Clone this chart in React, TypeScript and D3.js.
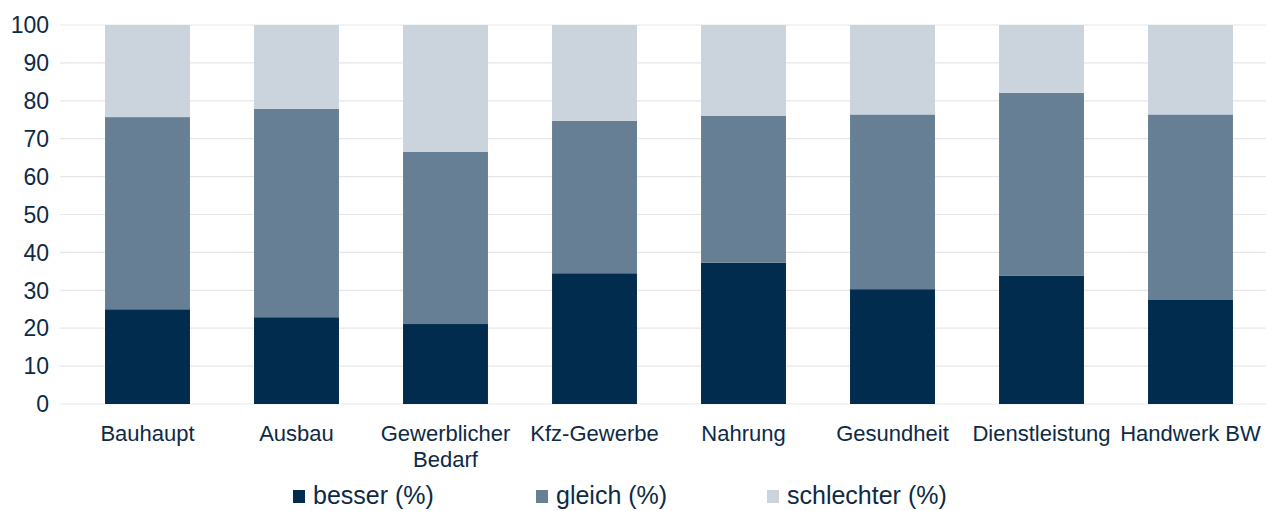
import React from "react";
import * as d3 from "d3";

const categories = ["Bauhaupt", "Ausbau", "Gewerblicher Bedarf", "Kfz-Gewerbe", "Nahrung", "Gesundheit", "Dienstleistung", "Handwerk BW"];
const besser = [25.0, 22.9, 21.1, 34.5, 37.3, 30.3, 33.8, 27.6];
const gleich = [50.7, 55.0, 45.4, 40.2, 38.7, 46.1, 48.3, 48.8];
const schlechter = [24.3, 22.1, 33.5, 25.3, 24.0, 23.6, 17.9, 23.6];
const seriesNames = ["besser (%)", "gleich (%)", "schlechter (%)"];
const yTicks = [0, 10, 20, 30, 40, 50, 60, 70, 80, 90, 100];

const colors = ["#012c4d", "#667f94", "#cbd4dc"];
const textColor = "#0e2a45";
const font = "'Liberation Sans', Arial, sans-serif";

export default function App() {
  const W = 1266, H = 511;
  const x = d3.scaleBand().domain(categories).range([73, 1265]).paddingInner(0.43).paddingOuter(0.215);
  const y = d3.scaleLinear().domain([0, 100]).range([404, 25]);
  const rows = categories.map((c, i) => ({ cat: c, besser: besser[i], gleich: gleich[i], schlechter: schlechter[i] }));
  const stack = d3.stack<any>().keys(["besser", "gleich", "schlechter"])(rows);
  const legendX = [293, 536, 767];

  return (
    <svg width={W} height={H} style={{ position: "absolute", left: 0, top: 0, background: "#fff" }} fontFamily={font}>
      {yTicks.map((t) => (
        <g key={t}>
          <line x1={60} x2={1266} y1={y(t)} y2={y(t)} stroke="#e4e7ec" strokeWidth={1.2} />
          <text x={49} y={y(t)} dy="0.36em" textAnchor="end" fontSize={23} fill={textColor}>{t}</text>
        </g>
      ))}
      {stack.map((s, si) => (
        <g key={si} fill={colors[si]}>
          {s.map((d, i) => (
            <rect key={i} x={x(categories[i])} width={x.bandwidth()} y={y(d[1])} height={y(d[0]) - y(d[1])} />
          ))}
        </g>
      ))}
      {categories.map((c) => {
        const cx = (x(c) as number) + x.bandwidth() / 2;
        const lines = c === "Gewerblicher Bedarf" ? ["Gewerblicher", "Bedarf"] : [c];
        return (
          <text key={c} x={cx} y={441} textAnchor="middle" fontSize={22} fill={textColor}>
            {lines.map((l, li) => (
              <tspan key={li} x={cx} dy={li === 0 ? 0 : 26}>{l}</tspan>
            ))}
          </text>
        );
      })}
      {seriesNames.map((n, i) => (
        <g key={n}>
          <rect x={legendX[i]} y={490} width={12} height={13} fill={colors[i]} />
          <text x={legendX[i] + 20} y={504} fontSize={25} fill={textColor}>{n}</text>
        </g>
      ))}
    </svg>
  );
}
